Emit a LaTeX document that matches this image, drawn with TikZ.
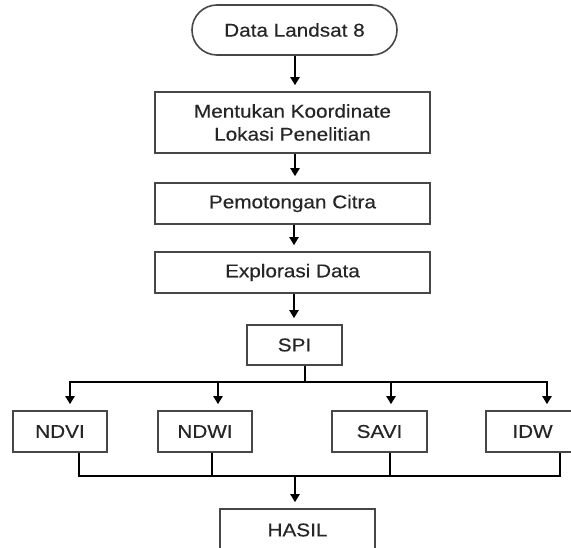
\documentclass[tikz,border=0pt]{standalone}
\usepackage{fontspec}
\setmainfont{Liberation Sans}[FakeStretch=1.12,FakeBold=0.4]
\usetikzlibrary{arrows.meta}
\definecolor{boxgray}{HTML}{474747}
\definecolor{textgray}{HTML}{262626}
\begin{document}
\begin{tikzpicture}[x=1pt,y=-1pt,
  box/.style={draw=boxgray, line width=1.6pt, fill=white, inner sep=0pt,
    align=center, font=\fontsize{18.5}{23}\selectfont, text=textgray},
  conn/.style={line width=2.4pt, black, line join=miter},
  arr/.style={conn, -{Triangle[width=9pt,length=8pt]}, shorten >=6pt}]
\useasboundingbox (0,0) rectangle (571,548);
\clip (0,0) rectangle (571,548);
% nodes
\node[box, rounded corners=25pt, minimum width=205pt, minimum height=50pt] (data) at (294.5,30) {Data Landsat 8};
\node[box, minimum width=275pt, minimum height=61pt] (box2) at (292.5,122.5) {Mentukan Koordinate\\Lokasi Penelitian};
\node[box, minimum width=275pt, minimum height=41pt] (box3) at (292.5,203.5) {Pemotongan Citra};
\node[box, minimum width=275pt, minimum height=41pt] (box4) at (292.5,272.5) {Explorasi Data};
\node[box, minimum width=95pt, minimum height=40pt] (spi) at (294.5,345) {SPI};
\node[box, minimum width=94pt, minimum height=41pt] (ndvi) at (60,431.5) {NDVI};
\node[box, minimum width=94pt, minimum height=41pt] (ndwi) at (205,431.5) {NDWI};
\node[box, minimum width=95pt, minimum height=41pt] (savi) at (379.5,431.5) {SAVI};
\node[box, minimum width=93pt, minimum height=41pt] (idw) at (532.5,431.5) {IDW};
\node[box, minimum width=155pt, minimum height=42pt] (hasil) at (297.5,530) {HASIL};
% main column
\coordinate (c1) at (295,0);
\coordinate (c2) at (294,0);
\draw[arr] (data.south -| c1) -- (box2.north -| c1);
\draw[arr] (box2.south -| c1) -- (box3.north -| c1);
\draw[arr] (box3.south -| c2) -- (box4.north -| c2);
\draw[arr] (box4.south -| c2) -- (spi.north -| c2);
% split
\coordinate (split) at (305,382);
\coordinate (t1) at (70,382);
\coordinate (t2) at (218,382);
\coordinate (t3) at (391,382);
\coordinate (t4) at (547,382);
\draw[conn] (spi.south -| split) -- (split);
\draw[arr] (split) -- (t1) -- (ndvi.north -| t1);
\draw[arr] (split) -- (t4) -- (idw.north -| t4);
\draw[arr] (t2) -- (ndwi.north -| t2);
\draw[arr] (t3) -- (savi.north -| t3);
% merge
\coordinate (m1) at (79,476);
\coordinate (m2) at (212,476);
\coordinate (m3) at (390,476);
\coordinate (m4) at (560,476);
\coordinate (merge) at (295,476);
\draw[conn] (ndvi.south -| m1) -- (m1) -- (m4) -- (idw.south -| m4);
\draw[conn] (ndwi.south -| m2) -- (m2);
\draw[conn] (savi.south -| m3) -- (m3);
\draw[arr] (merge) -- (hasil.north -| merge);
\end{tikzpicture}
\end{document}
